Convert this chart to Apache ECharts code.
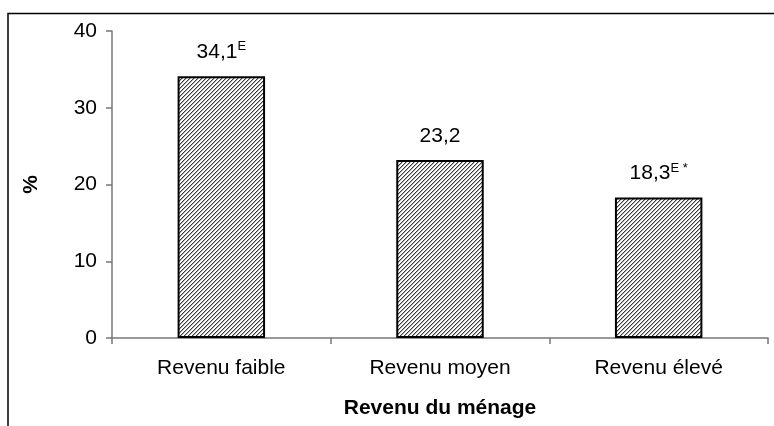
<!DOCTYPE html>
<html>
<head>
<meta charset="utf-8">
<script src="https://cdn.jsdelivr.net/npm/echarts@6/dist/echarts.min.js"></script>
<style>
    html, body { margin: 0; padding: 0; background: #fff; }
    #chart { width: 774px; height: 426px; }
</style>
</head>
<body>
<div id="chart"></div>
<script>
// chart data
const categories = ['Revenu faible', 'Revenu moyen', 'Revenu élevé'];
const values = [34.1, 23.2, 18.3];
const valueNotes = ['E', '', 'E *'];
const yTicks = [0, 10, 20, 30, 40];

// diagonal hatch tile, like the old excel fill
function makeHatch() {
    const c = document.createElement('canvas');
    c.width = 4;
    c.height = 4;
    const ctx = c.getContext('2d');
    ctx.fillStyle = '#ffffff';
    ctx.fillRect(0, 0, 4, 4);
    for (let y = 0; y < 4; y++) {
        ctx.fillStyle = '#3a3a3a';
        ctx.fillRect((3 - y + 4) % 4, y, 1, 1);
        ctx.fillStyle = '#b0b0b0';
        ctx.fillRect((4 - y) % 4, y, 1, 1);
    }
    return c;
}

const font = '"Liberation Sans", Arial, sans-serif';
const chart = echarts.init(document.getElementById('chart'));

chart.setOption({
    animation: false,
    backgroundColor: '#fff',
    textStyle: { fontFamily: font },
    grid: { left: 112, right: 6, top: 31, bottom: 88 },
    graphic: [{
        type: 'polyline',
        shape: { points: [[8, 426], [8, 13.5], [774, 13.5]] },
        style: { stroke: '#000', lineWidth: 1.5, fill: null },
        silent: true
    }],
    xAxis: {
        type: 'category',
        data: categories,
        name: 'Revenu du ménage',
        nameLocation: 'middle',
        nameGap: 60,
        nameTextStyle: { fontFamily: font, fontSize: 21, fontWeight: 'bold', color: '#000' },
        axisLine: { lineStyle: { color: '#777', width: 1.5 } },
        axisTick: { show: true, length: 6, lineStyle: { color: '#777', width: 1.5 } },
        axisLabel: { fontFamily: font, fontSize: 21, color: '#000', margin: 20 }
    },
    yAxis: {
        type: 'value',
        min: yTicks[0],
        max: yTicks[yTicks.length - 1],
        interval: yTicks[1] - yTicks[0],
        name: '%',
        nameLocation: 'middle',
        nameGap: 70,
        nameRotate: 90,
        nameTextStyle: { fontFamily: font, fontSize: 21, fontWeight: 'bold', color: '#000' },
        axisLine: { show: true, lineStyle: { color: '#777', width: 1.5 } },
        axisTick: { show: true, length: 6, lineStyle: { color: '#777', width: 1.5 } },
        axisLabel: { fontFamily: font, fontSize: 21, color: '#000', margin: 15 },
        splitLine: { show: false }
    },
    series: [{
        type: 'bar',
        data: values,
        barWidth: '40%',
        itemStyle: {
            color: { image: makeHatch(), repeat: 'repeat' },
            borderColor: '#000',
            borderWidth: 2
        },
        label: {
            show: true,
            position: 'top',
            distance: 12,
            formatter: (p) => {
                const num = String(p.value).replace('.', ',');
                const note = valueNotes[p.dataIndex];
                return note ? '{v|' + num + '}{sup|' + note + '}' : '{v|' + num + '}';
            },
            rich: {
                v: { fontFamily: font, fontSize: 21, color: '#000', lineHeight: 24 },
                sup: { fontFamily: font, fontSize: 13, color: '#000', verticalAlign: 'top', lineHeight: 12 }
            }
        }
    }]
});
</script>
</body>
</html>
